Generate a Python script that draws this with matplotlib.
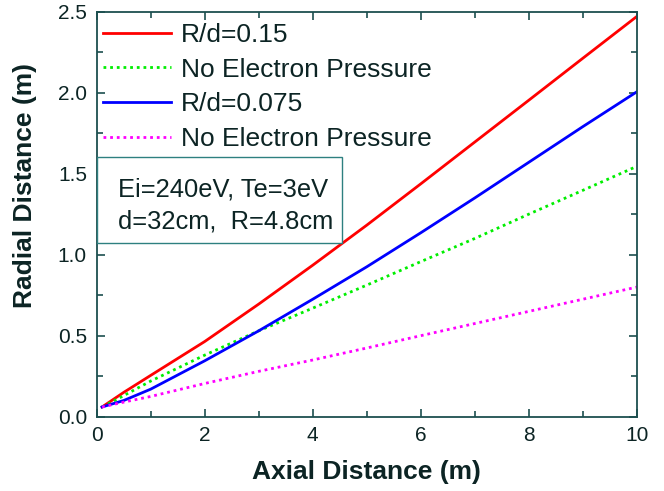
import matplotlib
matplotlib.use("Agg")
import matplotlib.pyplot as plt
from matplotlib.patches import Rectangle
from matplotlib.ticker import MultipleLocator, FormatStrFormatter

plt.rcParams['font.family'] = ['Liberation Sans', 'DejaVu Sans']

# Axial positions (m)
axial = [0.1, 0.5, 1, 2, 3, 4, 5, 6, 7, 8, 9, 10]

# Radial beam extent (m) for each case
r_015 = [0.06, 0.15, 0.255, 0.464, 0.695, 0.935, 1.182, 1.437, 1.695, 1.953, 2.212, 2.47]
r_015_noep = [0.06, 0.13, 0.22, 0.38, 0.53, 0.67, 0.812, 0.957, 1.10, 1.25, 1.397, 1.545]
r_0075 = [0.06, 0.10, 0.17, 0.345, 0.53, 0.725, 0.925, 1.135, 1.35, 1.57, 1.79, 2.005]
r_0075_noep = [0.06, 0.09, 0.125, 0.205, 0.28, 0.35, 0.424, 0.50, 0.575, 0.65, 0.725, 0.80]

labels = ["R/d=0.15", "No Electron Pressure", "R/d=0.075", "No Electron Pressure"]
info_lines = ["Ei=240eV, Te=3eV", "d=32cm,  R=4.8cm"]

axis_col = '#1c4f4f'
text_col = '#0c2424'

fig = plt.figure(figsize=(6.64, 4.91), dpi=100)
ax = fig.add_axes([0.1456, 0.1513, 0.8133, 0.8249])

lw = 2.0
dots = (0, (1, 1.4))
ax.plot(axial, r_015, color='#ff0000', lw=lw, label=labels[0])
ax.plot(axial, r_015_noep, color='#00ee00', lw=lw, ls=dots, label=labels[1])
ax.plot(axial, r_0075, color='#0000ff', lw=lw, label=labels[2])
ax.plot(axial, r_0075_noep, color='#ff00ff', lw=lw, ls=dots, label=labels[3])

ax.set_xlim(0, 10)
ax.set_ylim(0, 2.5)
ax.xaxis.set_major_locator(MultipleLocator(2))
ax.xaxis.set_minor_locator(MultipleLocator(1))
ax.yaxis.set_major_locator(MultipleLocator(0.5))
ax.yaxis.set_minor_locator(MultipleLocator(0.25))
ax.yaxis.set_major_formatter(FormatStrFormatter('%.1f'))

for s in ax.spines.values():
    s.set_color(axis_col)
    s.set_linewidth(1.3)
ax.tick_params(which='both', direction='in', top=True, right=True,
               color=axis_col, labelcolor=text_col, labelsize=15, width=1.2)
ax.tick_params(which='major', length=6, pad=7)
ax.tick_params(which='minor', length=4)

ax.set_xlabel("Axial Distance (m)", fontsize=19, fontweight='bold', color=text_col,
              va='center', ha='center')
ax.set_ylabel("Radial Distance (m)", fontsize=19, fontweight='bold', color=text_col,
              va='center', ha='center')
ax.xaxis.set_label_coords(0.5, -0.137)
ax.yaxis.set_label_coords(-0.133, 0.57)

leg = ax.legend(loc='upper left', bbox_to_anchor=(0.0, 0.988), frameon=False,
                fontsize=19, handlelength=2.55, handletextpad=0.38,
                labelspacing=0.4, borderaxespad=0.1, borderpad=0.15)
for t in leg.get_texts():
    t.set_color(text_col)

# Parameter box
ax.add_patch(Rectangle((0.0, 0.429), 0.454, 0.212, transform=ax.transAxes,
                       facecolor='white', edgecolor='#2e8080', lw=1.0, zorder=5))
ax.text(0.04, 0.562, info_lines[0], transform=ax.transAxes, fontsize=18.4,
        color=text_col, va='center', ha='left', zorder=6)
ax.text(0.04, 0.481, info_lines[1], transform=ax.transAxes, fontsize=18.4,
        color=text_col, va='center', ha='left', zorder=6)

fig.savefig("out.png", dpi=100)
